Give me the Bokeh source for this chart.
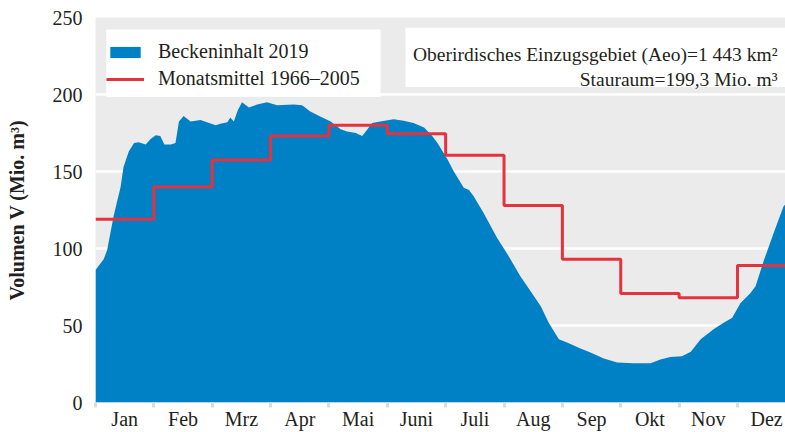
from bokeh.plotting import figure
from bokeh.models import Range1d, FixedTicker, Legend, LegendItem, BoxAnnotation, Label
from bokeh.embed import file_html
from bokeh.resources import INLINE

# ---- data -------------------------------------------------------------
month_names = ["Jan", "Feb", "Mrz", "Apr", "Mai", "Juni",
               "Juli", "Aug", "Sep", "Okt", "Nov", "Dez"]

# long-term monthly mean 1966-2005 (Mio. m3)
monthly_mean = [119, 140, 157.5, 173, 180, 174.5, 160.5, 128, 93, 70.8, 68, 89]

# reservoir content 2019 (position in months since 1 Jan, Mio. m3)
curve_month = [0.00, 0.14, 0.20, 0.31, 0.43, 0.48, 0.57, 0.66, 0.74, 0.86,
               0.94, 1.03, 1.11, 1.18, 1.29, 1.37, 1.43, 1.51, 1.63, 1.80,
               1.91, 2.06, 2.14, 2.26, 2.31, 2.37, 2.44, 2.51, 2.63, 2.77,
               2.94, 3.11, 3.40, 3.54, 3.68, 3.86, 4.03, 4.20, 4.31, 4.46,
               4.57, 4.66, 4.74, 4.88, 5.11, 5.28, 5.45, 5.63, 5.77, 5.86,
               6.03, 6.14, 6.31, 6.40, 6.48, 6.65, 6.88, 7.08, 7.28, 7.45,
               7.63, 7.77, 7.94, 8.08, 8.31, 8.48, 8.71, 8.94, 9.22, 9.51,
               9.68, 9.85, 10.05, 10.20, 10.37, 10.59, 10.77, 10.91, 11.05, 11.22,
               11.31, 11.45, 11.62, 11.79, 11.83]
curve_volume = [86, 93, 99, 121, 140, 153, 163, 168.5, 169, 167.5,
                171, 173.5, 173, 167.5, 167.5, 168.5, 182.5, 186, 182.5, 183.5,
                182, 180, 181, 182, 185, 182.5, 190, 195, 191.5, 193.5,
                195, 193, 193.5, 193, 189, 185.5, 182.5, 177.5, 176, 175,
                173, 177.5, 181.5, 182.5, 184, 183, 181.5, 178.5, 173, 168.5,
                158, 150, 139.5, 138, 134, 123, 107, 95, 82, 72.5,
                62.5, 51.5, 41, 39, 35, 32.5, 28.5, 26, 25.5, 25.5,
                28, 29.5, 30, 33, 41, 47.5, 52, 55, 64.5, 71,
                75.5, 92, 110, 127.5, 129]

y_ticks = [0, 50, 100, 150, 200, 250]
grid_ticks = [50, 100, 150, 200]

legend_labels = ["Beckeninhalt 2019", "Monatsmittel 1966–2005"]
info_lines = ["Oberirdisches Einzugsgebiet (Aeo)=1 443 km²",
              "Stauraum=199,3 Mio. m³"]

# ---- styling ----------------------------------------------------------
FONT = "Liberation Serif"
TEXT = "#231f20"
BLUE = "#0081c6"
RED = "#e5323f"
X_END = 11.823

p = figure(width=785, height=432, output_backend="svg", toolbar_location=None,
           x_range=Range1d(0, X_END), y_range=Range1d(0, 250),
           min_border_left=95, min_border_right=0, min_border_top=17,
           min_border_bottom=29)
p.background_fill_color = "#ebebeb"
p.border_fill_color = "white"
p.outline_line_color = None

area = p.varea(x=curve_month, y1=0, y2=curve_volume, fill_color=BLUE)
step = p.step(x=list(range(13)), y=monthly_mean + [monthly_mean[-1]], mode="after",
              line_color=RED, line_width=3)

# x axis: labels centred in months, tick marks at month boundaries
p.xaxis.ticker = FixedTicker(ticks=[i + 0.5 for i in range(12)],
                             minor_ticks=list(range(13)))
p.xaxis.major_label_overrides = {i + 0.5: n for i, n in enumerate(month_names)}
p.xaxis.major_tick_line_color = None
p.xaxis.major_tick_out = 0
p.xaxis.major_tick_in = 0
p.xaxis.minor_tick_line_color = "#dcdcdc"
p.xaxis.minor_tick_line_width = 3
p.xaxis.minor_tick_out = 5
p.xaxis.minor_tick_in = 0
p.xaxis.axis_line_color = None
p.xaxis.major_label_standoff = 0
p.xaxis.major_label_text_font = FONT
p.xaxis.major_label_text_font_size = "20px"
p.xaxis.major_label_text_color = TEXT
p.xgrid.visible = False

# y axis
p.yaxis.ticker = FixedTicker(ticks=y_ticks)
p.yaxis.major_tick_line_color = None
p.yaxis.major_tick_out = 0
p.yaxis.minor_tick_line_color = None
p.yaxis.axis_line_color = None
p.yaxis.major_label_standoff = 13
p.yaxis.major_label_text_font = FONT
p.yaxis.major_label_text_font_size = "20px"
p.yaxis.major_label_text_color = TEXT
p.yaxis.axis_label = "Volumen V (Mio. m³)"
p.yaxis.axis_label_text_font = FONT
p.yaxis.axis_label_text_font_style = "bold"
p.yaxis.axis_label_text_font_size = "20px"
p.yaxis.axis_label_text_color = TEXT
p.yaxis.axis_label_standoff = 22
p.ygrid.ticker = FixedTicker(ticks=grid_ticks)
p.ygrid.grid_line_color = "white"
p.ygrid.grid_line_width = 2.5

# white panels behind legend and info text
legend_box = BoxAnnotation(left=0.184, right=4.884, top=242.2, bottom=198.4,
                           fill_color="white", fill_alpha=1, line_color=None)
info_box = BoxAnnotation(left=5.312, right=X_END, top=243.3, bottom=204.9,
                         fill_color="white", fill_alpha=1, line_color=None)
p.add_layout(legend_box)
p.add_layout(info_box)

legend = Legend(items=[LegendItem(label=legend_labels[0], renderers=[area]),
                       LegendItem(label=legend_labels[1], renderers=[step])],
                location=(11, 312), orientation="vertical", padding=8, spacing=4,
                margin=0, glyph_width=38, glyph_height=14, label_standoff=14,
                label_text_font=FONT, label_text_font_size="20px",
                label_text_color=TEXT, border_line_color=None,
                background_fill_alpha=0)
p.add_layout(legend)

for txt, ys in zip(info_lines, [348, 323]):
    p.add_layout(Label(x=682, y=ys, x_units="screen", y_units="screen", text=txt,
                       text_align="right", text_baseline="alphabetic",
                       text_font=FONT, text_font_size="19.5px", text_color=TEXT))

open("out.html", "w").write(file_html(p, INLINE))
